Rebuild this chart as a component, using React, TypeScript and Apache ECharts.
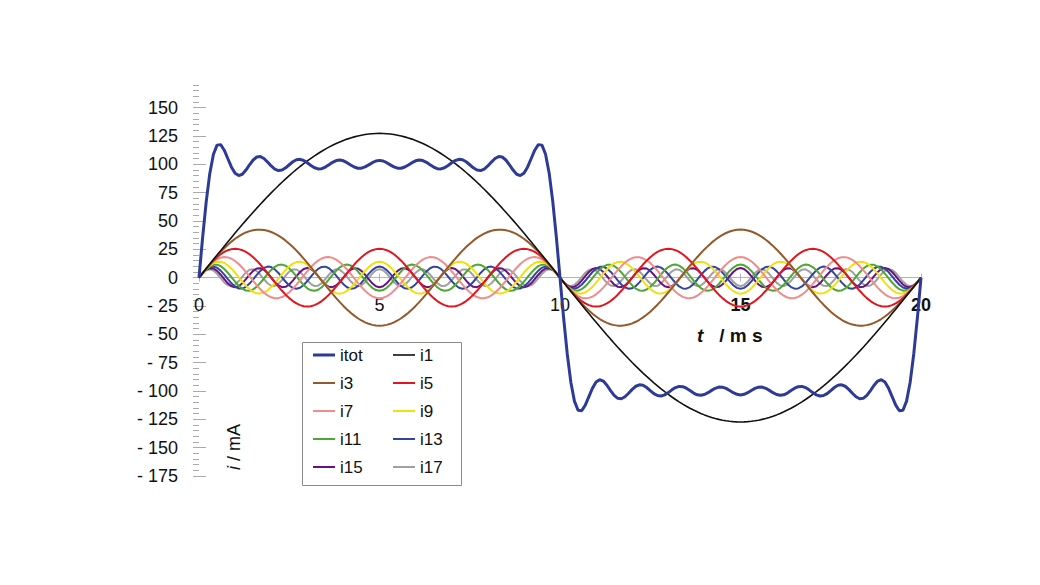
import React, { useEffect, useRef } from "react";
import * as echarts from "echarts";

// Harmonic components of a square-wave current
const HARMONIC_ORDERS = [1, 3, 5, 7, 9, 11, 13, 15, 17];
const PEAK_AMPLITUDES_MA = [127.3, 42.4, 25.5, 18.2, 14.1, 11.6, 9.8, 8.5, 7.5];
const PERIOD_MS = 20;
const SAMPLE_COUNT = 200; // samples per period
const X_TICKS_MS = [0, 5, 10, 15, 20];
const Y_MIN = -175;
const Y_MAX = 170;
const Y_LABEL_MAX = 150;

const HARMONIC_NAMES = ["i1", "i3", "i5", "i7", "i9", "i11", "i13", "i15", "i17"];
const TOTAL_NAME = "itot";
const LEGEND_LEFT = ["itot", "i3", "i7", "i11", "i15"];
const LEGEND_RIGHT = ["i1", "i5", "i9", "i13", "i17"];

const COLORS: Record<string, string> = {
  itot: "#2E3B96",
  i1: "#111111",
  i3: "#94592A",
  i5: "#E3141C",
  i7: "#F08C8C",
  i9: "#F0E010",
  i11: "#4CA832",
  i13: "#34449E",
  i15: "#6A117F",
  i17: "#A0A0A0",
};
const WIDTHS: Record<string, number> = {
  itot: 3,
  i1: 1.6,
};

const FONT = "'Liberation Sans', Arial, sans-serif";

function buildHarmonic(k: number): number[][] {
  const pts: number[][] = [];
  for (let s = 0; s <= SAMPLE_COUNT; s++) {
    const t = (s * PERIOD_MS) / SAMPLE_COUNT;
    pts.push([t, PEAK_AMPLITUDES_MA[k] * Math.sin((2 * Math.PI * HARMONIC_ORDERS[k] * t) / PERIOD_MS)]);
  }
  return pts;
}

function legendItem(name: string) {
  const w = WIDTHS[name] ?? 2;
  return { name, icon: `path://M0,0H22V${w}H0Z` };
}

export default function App() {
  const ref = useRef<HTMLDivElement>(null);
  useEffect(() => {
    if (!ref.current) return;
    const chart = echarts.init(ref.current, undefined, { renderer: "svg" });

    const harmonics = HARMONIC_NAMES.map((_, k) => buildHarmonic(k));
    const total = harmonics[0].map((p, s) => [p[0], harmonics.reduce((acc, h) => acc + h[s][1], 0)]);

    const mkSeries = (name: string, data: number[][], z: number) => ({
      name,
      type: "line",
      data,
      xAxisIndex: 0,
      yAxisIndex: 0,
      showSymbol: false,
      symbol: "none",
      z,
      lineStyle: { color: COLORS[name], width: WIDTHS[name] ?? 2 },
      itemStyle: { color: COLORS[name] },
      emphasis: { disabled: true },
    });

    const series: any[] = [];
    for (let k = HARMONIC_NAMES.length - 1; k >= 0; k--) {
      series.push(mkSeries(HARMONIC_NAMES[k], harmonics[k], 2 + (HARMONIC_NAMES.length - k)));
    }
    series.push(mkSeries(TOTAL_NAME, total, 20));

    const gridLeft = 199;
    const gridRight = 119;
    const gridTop = 85;
    const gridBottom = 109;
    const plotH = 585 - gridTop - gridBottom;
    const pxPerUnit = plotH / (Y_MAX - Y_MIN);
    const grid1Top = gridTop + (Y_MAX - Y_LABEL_MAX) * pxPerUnit;
    const zeroOffset = -(plotH - Y_MAX * pxPerUnit); // move x axis up to y = 0

    const legendCommon = {
      orient: "vertical",
      itemWidth: 22,
      itemHeight: 14,
      itemGap: 10,
      top: 341,
      symbolKeepAspect: true,
      textStyle: { fontSize: 17, fontFamily: FONT, color: "#111", lineHeight: 18 },
      selectedMode: false,
    };

    const xCommon = {
      type: "value",
      gridIndex: 0,
      position: "bottom",
      offset: zeroOffset,
      min: X_TICKS_MS[0],
      max: X_TICKS_MS[X_TICKS_MS.length - 1],
      interval: X_TICKS_MS[1] - X_TICKS_MS[0],
      splitLine: { show: false },
      z: 1,
    };

    const option: any = {
      animation: false,
      backgroundColor: "#ffffff",
      grid: [
        { left: gridLeft, right: gridRight, top: gridTop, bottom: gridBottom },
        { left: gridLeft, right: gridRight, top: grid1Top, bottom: gridBottom },
      ],
      xAxis: [
        {
          ...xCommon,
          axisLine: { show: true, onZero: false, lineStyle: { color: "#B4B4B4", width: 1 } },
          axisTick: { show: true, inside: false, length: 4, lineStyle: { color: "#B4B4B4" } },
          axisLabel: {
            margin: 18,
            fontSize: 18,
            fontFamily: FONT,
            color: "#111",
            formatter: (v: number) => (v >= 15 ? `{b|${v}}` : `${v}`),
            rich: { b: { fontSize: 18, fontFamily: FONT, fontWeight: "bold", color: "#111" } },
          },
        },
        {
          ...xCommon,
          axisLine: { show: false, onZero: false },
          axisTick: { show: true, inside: true, length: 4, lineStyle: { color: "#B4B4B4" } },
          axisLabel: { show: false },
        },
        {
          type: "value",
          gridIndex: 1,
          min: 0,
          max: 20,
          show: false,
        },
      ],
      yAxis: [
        {
          type: "value",
          gridIndex: 0,
          min: Y_MIN,
          max: Y_MAX,
          interval: 5,
          axisLine: { show: false, onZero: false },
          axisTick: { show: true, inside: false, length: 6, lineStyle: { color: "#AAAAAA" } },
          axisLabel: {
            margin: 21,
            fontSize: 18,
            fontFamily: FONT,
            color: "#111",
            formatter: (v: number) => {
              if (v % 25 !== 0 || v > Y_LABEL_MAX) return "";
              return v < 0 ? `- ${-v}` : `${v}`;
            },
          },
          splitLine: { show: false },
        },
        {
          type: "value",
          gridIndex: 1,
          min: Y_MIN,
          max: Y_LABEL_MAX,
          interval: 25,
          axisLine: { show: false, onZero: false },
          axisTick: { show: true, inside: true, length: 7, lineStyle: { color: "#AAAAAA" } },
          axisLabel: { show: false },
          splitLine: { show: false },
        },
      ],
      legend: [
        { ...legendCommon, left: 308, data: LEGEND_LEFT.map(legendItem) },
        { ...legendCommon, left: 388, data: LEGEND_RIGHT.map(legendItem) },
      ],
      graphic: [
        {
          type: "rect",
          left: 300,
          top: 340,
          shape: { x: 0, y: 0, width: 159, height: 143 },
          style: { fill: "none", stroke: "#8A8A8A", lineWidth: 1 },
          z: 0,
        },
        {
          type: "text",
          x: 697,
          y: 335,
          style: {
            text: "{it|t}   / m s",
            fontSize: 19,
            fontFamily: FONT,
            fontWeight: "bold",
            fill: "#111",
            verticalAlign: "middle",
            align: "left",
            rich: { it: { fontStyle: "italic", fontWeight: "bold", fontSize: 19, fontFamily: FONT, fill: "#111" } },
          },
        },
        {
          type: "text",
          x: 234,
          y: 447,
          rotation: Math.PI / 2,
          style: {
            text: "{it|i} / mA",
            fontSize: 18,
            fontFamily: FONT,
            fill: "#111",
            verticalAlign: "middle",
            align: "center",
            rich: { it: { fontStyle: "italic", fontSize: 18, fontFamily: FONT, fill: "#111" } },
          },
        },
      ],
      series,
    };

    chart.setOption(option);
    return () => chart.dispose();
  }, []);

  return (
    <div
      ref={ref}
      style={{ position: "fixed", left: 0, top: 0, width: 1040, height: 585, background: "#fff" }}
    />
  );
}
